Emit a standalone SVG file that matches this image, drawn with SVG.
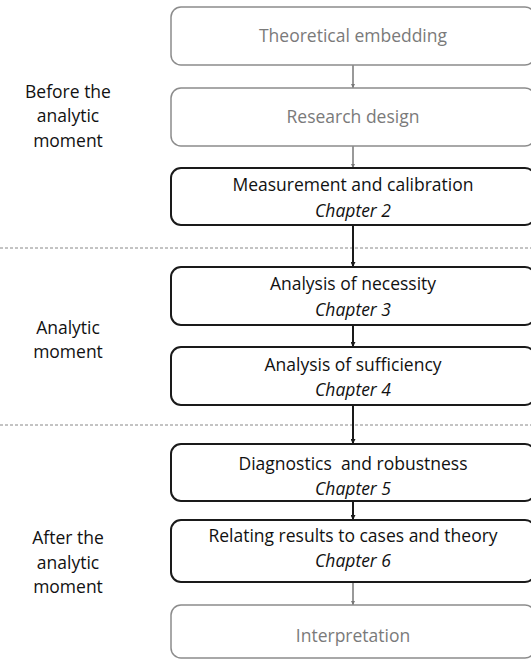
<svg xmlns="http://www.w3.org/2000/svg" width="531" height="663" viewBox="0 0 531 663">
  <style>
    .box { fill: #ffffff; }
    .soft { stroke: #8c8c8c; stroke-width: 1.5; }
    .hard { stroke: #1a1a1a; stroke-width: 2; }
    text { font-family: "Open Sans", "Liberation Sans", sans-serif; font-size: 17.5px; text-anchor: middle; }
    .t-soft { fill: #7a7a7a; }
    .t-hard { fill: #111111; }
    .ch { font-style: italic; }
    .side { fill: #111111; }
    .sep { stroke: #888888; stroke-width: 1; stroke-dasharray: 3 2; }
    .link-soft { stroke: #777777; stroke-width: 1.5; fill: none; }
    .link-hard { stroke: #1a1a1a; stroke-width: 2; fill: none; }
  </style>
  <defs>
    <marker id="head-soft" viewBox="0 0 10 10" refX="10" refY="5" markerWidth="4" markerHeight="4" orient="auto" markerUnits="userSpaceOnUse">
      <path d="M0,0 L10,5 L0,10 z" fill="#777777"/>
    </marker>
    <marker id="head-hard" viewBox="0 0 10 10" refX="10" refY="5" markerWidth="5" markerHeight="5" orient="auto" markerUnits="userSpaceOnUse">
      <path d="M0,0 L10,5 L0,10 z" fill="#1a1a1a"/>
    </marker>
  </defs>

  <rect width="531" height="663" fill="#ffffff"/>

  <!-- phase separators -->
  <line class="sep" x1="0" y1="248" x2="531" y2="248"/>
  <line class="sep" x1="0" y1="425" x2="531" y2="425"/>

  <!-- phase labels -->
  <g id="phase-before">
    <text class="side" x="68" y="98">Before the</text>
    <text class="side" x="68" y="122">analytic</text>
    <text class="side" x="68" y="147">moment</text>
  </g>
  <g id="phase-analytic">
    <text class="side" x="68" y="334">Analytic</text>
    <text class="side" x="68" y="358">moment</text>
  </g>
  <g id="phase-after">
    <text class="side" x="68" y="544">After the</text>
    <text class="side" x="68" y="569">analytic</text>
    <text class="side" x="68" y="593">moment</text>
  </g>

  <!-- connectors -->
  <g id="connectors">
    <line class="link-soft" x1="353" y1="65" x2="353" y2="88" marker-end="url(#head-soft)"/>
    <line class="link-soft" x1="353" y1="146" x2="353" y2="168" marker-end="url(#head-soft)"/>
    <line class="link-hard" x1="353" y1="225" x2="353" y2="267" marker-end="url(#head-hard)"/>
    <line class="link-hard" x1="353" y1="325" x2="353" y2="347" marker-end="url(#head-hard)"/>
    <line class="link-hard" x1="353" y1="405" x2="353" y2="444" marker-end="url(#head-hard)"/>
    <line class="link-hard" x1="353" y1="501" x2="353" y2="520" marker-end="url(#head-hard)"/>
    <line class="link-soft" x1="353" y1="582" x2="353" y2="605" marker-end="url(#head-soft)"/>
  </g>

  <!-- steps -->
  <g id="theoretical-embedding">
    <rect class="box soft" x="171" y="7" width="364" height="58" rx="10"/>
    <text class="t-soft" x="353" y="42">Theoretical embedding</text>
  </g>
  <g id="research-design">
    <rect class="box soft" x="171" y="88" width="364" height="58" rx="10"/>
    <text class="t-soft" x="353" y="123">Research design</text>
  </g>
  <g id="measurement">
    <rect class="box hard" x="171" y="168" width="364" height="57" rx="10"/>
    <text class="t-hard" x="353" y="191">Measurement and calibration</text>
    <text class="t-hard ch" x="353" y="217">Chapter 2</text>
  </g>
  <g id="necessity">
    <rect class="box hard" x="171" y="267" width="364" height="58" rx="10"/>
    <text class="t-hard" x="353" y="290">Analysis of necessity</text>
    <text class="t-hard ch" x="353" y="316">Chapter 3</text>
  </g>
  <g id="sufficiency">
    <rect class="box hard" x="171" y="347" width="364" height="58" rx="10"/>
    <text class="t-hard" x="353" y="371">Analysis of sufficiency</text>
    <text class="t-hard ch" x="353" y="396">Chapter 4</text>
  </g>
  <g id="diagnostics">
    <rect class="box hard" x="171" y="444" width="364" height="57" rx="10"/>
    <text class="t-hard" x="353" y="470">Diagnostics&#160; and robustness</text>
    <text class="t-hard ch" x="353" y="495">Chapter 5</text>
  </g>
  <g id="relating">
    <rect class="box hard" x="171" y="520" width="364" height="62" rx="10"/>
    <text class="t-hard" x="353" y="542">Relating results to cases and theory</text>
    <text class="t-hard ch" x="353" y="567">Chapter 6</text>
  </g>
  <g id="interpretation">
    <rect class="box soft" x="171" y="605" width="364" height="53" rx="10"/>
    <text class="t-soft" x="353" y="642">Interpretation</text>
  </g>
</svg>
